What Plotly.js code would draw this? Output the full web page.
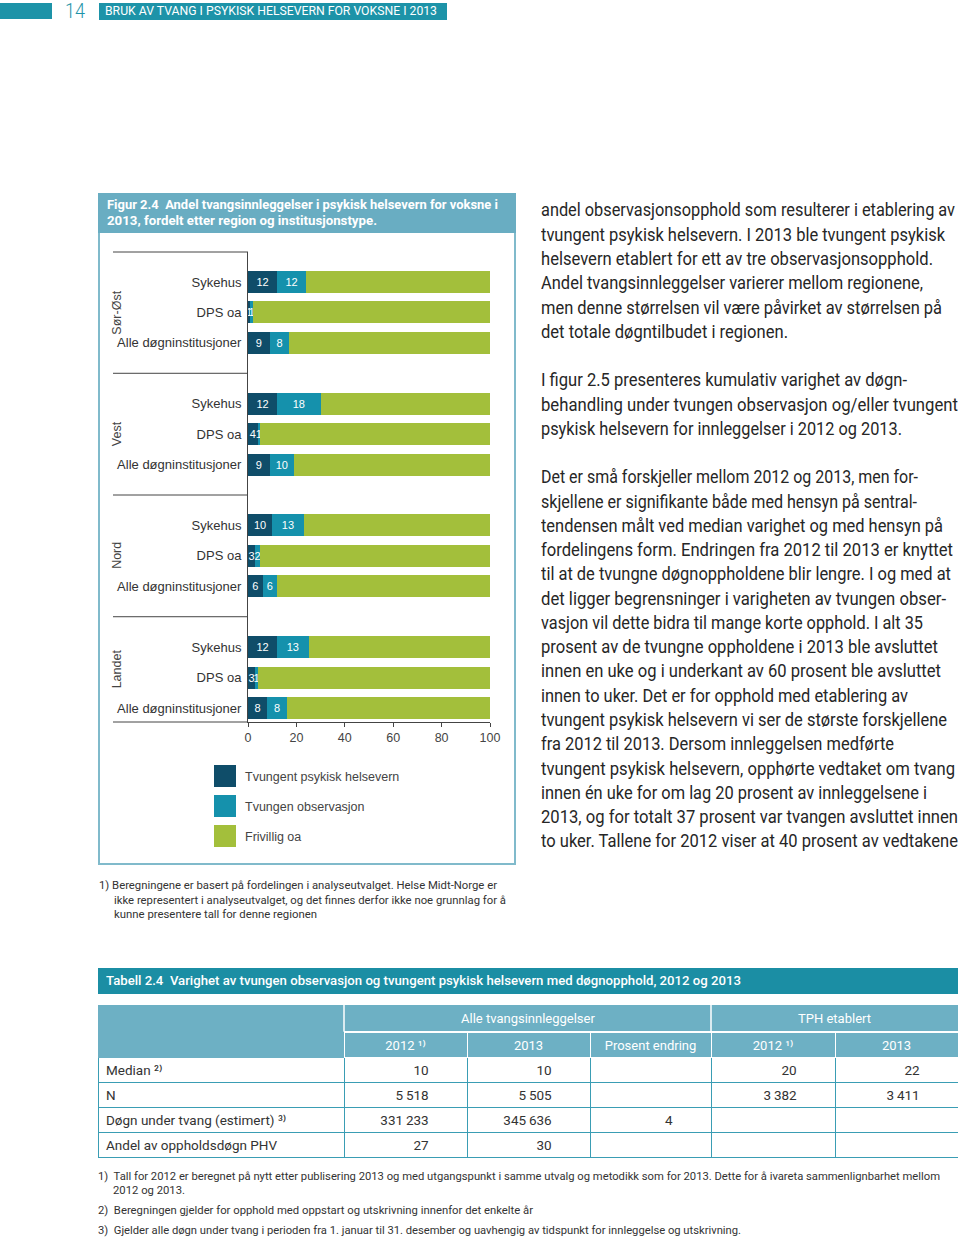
<!DOCTYPE html>
<html><head><meta charset="utf-8">
<script src="https://cdn.plot.ly/plotly-3.0.1.min.js"></script>
<style>
html,body{margin:0;padding:0;background:#fff;}
body{position:relative;width:960px;height:1240px;overflow:hidden;font-family:Roboto,"Open Sans",sans-serif;}
.abs{position:absolute;}
.ln{position:absolute;white-space:pre;transform-origin:0 50%;}
</style></head>
<body>
<div class="abs" style="left:0;top:3px;width:52px;height:16px;background:#1d93a8"></div>
<div class="abs" style="left:99px;top:3px;width:348px;height:17px;background:#1d93a8"></div>
<div class="abs" style="left:98px;top:193px;width:414px;height:668px;border:2px solid #80bacb"></div>
<div class="abs" style="left:98px;top:193px;width:418px;height:40px;background:#69adc2"></div>
<div id="chart" class="abs" style="left:98px;top:233px;width:418px;height:632px"></div>
<div class="abs" style="left:98px;top:968px;width:860px;height:26px;background:#1b8ea4"></div>
<div id="table" class="abs" style="left:98px;top:1005px;width:860px;height:158px"></div>
<script>
// ---------------- DATA ----------------
const regions = ['Sør-Øst', 'Vest', 'Nord', 'Landet'];
const instTypes = ['Sykehus', 'DPS oa', 'Alle døgninstitusjoner'];
const seriesNames = ['Tvungent psykisk helsevern', 'Tvungen observasjon', 'Frivillig oa'];
const tvungentPH = [12, 1, 9, 12, 4, 9, 10, 3, 6, 12, 3, 8];
const tvungenObs = [12, 1, 8, 18, 1, 10, 13, 2, 6, 13, 1, 8];
const frivillig  = [76, 98, 83, 70, 95, 81, 77, 95, 88, 75, 96, 84];
const xTicks = [0, 20, 40, 60, 80, 100];

const tableRowLabels = ['Median \u00b2\u207e', 'N', 'Døgn under tvang (estimert) \u00b3\u207e', 'Andel av oppholdsdøgn PHV'];
const tableColHeaders = ['', '2012 \u00b9\u207e', '2013', 'Prosent endring', '2012 \u00b9\u207e', '2013'];
const tableGroupHeaders = ['Alle tvangsinnleggelser', 'TPH etablert'];
const all2012 = ['10', '5\u2009518', '331\u2009233', '27'];
const all2013 = ['10', '5\u2009505', '345\u2009636', '30'];
const pctChange = ['', '', '4', ''];
const tph2012 = ['20', '3\u2009382', '', ''];
const tph2013 = ['22', '3\u2009411', '', ''];

// ---------------- TEXT ----------------
function addLine(text, x, yc, right, st) {
  const d = document.createElement('div');
  d.className = 'ln';
  d.textContent = text;
  const fs = parseFloat(st.fontSize);
  Object.assign(d.style, st);
  d.style.left = x + 'px';
  d.style.lineHeight = (fs * 1.3) + 'px';
  d.style.top = (yc - fs * 1.3 / 2) + 'px';
  d.dataset.w = right - x;
  document.body.appendChild(d);
}
function fit() {
  document.querySelectorAll('.ln').forEach(d => {
    d.style.transform = 'none';
    const w = d.getBoundingClientRect().width;
    if (w > 0) d.style.transform = 'scaleX(' + (d.dataset.w / w) + ')';
  });
}
addLine('14', 65, 11, 85, {fontSize: '20px', color: '#1d93a8', fontWeight: '300'});
addLine('BRUK AV TVANG I PSYKISK HELSEVERN FOR VOKSNE I 2013', 105, 11.5, 437, {fontSize: '13px', color: '#fff'});
const titleSt = {fontSize: '13px', color: '#fff', fontWeight: '700'};
addLine('Figur 2.4  Andel tvangsinnleggelser i psykisk helsevern for voksne i', 107, 205, 498, titleSt);
addLine('2013, fordelt etter region og institusjonstype.', 107, 221, 377, titleSt);

const bodySt = {fontSize: '18px', color: '#262626', fontWeight: '400'};
const para1 = [
  ['andel observasjonsopphold som resulterer i etablering av', 955],
  ['tvungent psykisk helsevern. I 2013 ble tvungent psykisk', 945],
  ['helsevern etablert for ett av tre observasjonsopphold.', 933],
  ['Andel tvangsinnleggelser varierer mellom regionene,', 923],
  ['men denne størrelsen vil være påvirket av størrelsen på', 942],
  ['det totale døgntilbudet i regionen.', 788]];
const para2 = [
  ['I figur 2.5 presenteres kumulativ varighet av døgn-', 907],
  ['behandling under tvungen observasjon og/eller tvungent', 958],
  ['psykisk helsevern for innleggelser i 2012 og 2013.', 902]];
const para3 = [
  ['Det er små forskjeller mellom 2012 og 2013, men for-', 918],
  ['skjellene er signifikante både med hensyn på sentral-', 917],
  ['tendensen målt ved median varighet og med hensyn på', 943],
  ['fordelingens form. Endringen fra 2012 til 2013 er knyttet', 953],
  ['til at de tvungne døgnoppholdene blir lengre. I og med at', 951],
  ['det ligger begrensninger i varigheten av tvungen obser-', 946],
  ['vasjon vil dette bidra til mange korte opphold. I alt 35', 923],
  ['prosent av de tvungne oppholdene i 2013 ble avsluttet', 938],
  ['innen en uke og i underkant av 60 prosent ble avsluttet', 941],
  ['innen to uker. Det er for opphold med etablering av', 908],
  ['tvungent psykisk helsevern vi ser de største forskjellene', 947],
  ['fra 2012 til 2013. Dersom innleggelsen medførte', 894],
  ['tvungent psykisk helsevern, opphørte vedtaket om tvang', 955],
  ['innen én uke for om lag 20 prosent av innleggelsene i', 927],
  ['2013, og for totalt 37 prosent var tvangen avsluttet innen', 958],
  ['to uker. Tallene for 2012 viser at 40 prosent av vedtakene', 958]];
para1.forEach((l, i) => addLine(l[0], 541, 210 + i * 24.3, l[1], bodySt));
para2.forEach((l, i) => addLine(l[0], 541, 380 + i * 24.3, l[1], bodySt));
para3.forEach((l, i) => addLine(l[0], 541, 477 + i * 24.27, l[1], bodySt));

const fnSt = {fontSize: '11.5px', color: '#333'};
addLine('1) Beregningene er basert på fordelingen i analyseutvalget. Helse Midt-Norge er', 99, 885, 497, fnSt);
addLine('ikke representert i analyseutvalget, og det finnes derfor ikke noe grunnlag for å', 114, 900, 506, fnSt);
addLine('kunne presentere tall for denne regionen', 114, 914, 317, fnSt);

addLine('Tabell 2.4  Varighet av tvungen observasjon og tvungent psykisk helsevern med døgnopphold, 2012 og 2013', 106, 981, 741, {fontSize: '13px', color: '#fff', fontWeight: '500'});

const tfnSt = {fontSize: '11px', color: '#333'};
addLine('1)  Tall for 2012 er beregnet på nytt etter publisering 2013 og med utgangspunkt i samme utvalg og metodikk som for 2013. Dette for å ivareta sammenlignbarhet mellom', 98, 1177, 940, tfnSt);
addLine('2012 og 2013.', 113, 1191, 185, tfnSt);
addLine('2)  Beregningen gjelder for opphold med oppstart og utskrivning innenfor det enkelte år', 98, 1211, 533, tfnSt);
addLine('3)  Gjelder alle døgn under tvang i perioden fra 1. januar til 31. desember og uavhengig av tidspunkt for innleggelse og utskrivning.', 98, 1231, 741, tfnSt);
fit();
if (document.fonts && document.fonts.ready) document.fonts.ready.then(fit);

// ---------------- CHART ----------------
const F = '"Liberation Sans", Arial, Helvetica, sans-serif';
const colors = ['#0f4d69', '#1591ac', '#a3bf3b'];
const pos = [], yLabels = [];
regions.forEach((r, ri) => instTypes.forEach((t, ti) => { pos.push(ri * 4 + ti); yLabels.push(t); }));
const seriesVals = [tvungentPH, tvungenObs, frivillig];
const traces = seriesVals.map((v, s) => {
  const tr = {
    type: 'bar', orientation: 'h', name: seriesNames[s], x: v, y: pos, width: 0.72,
    marker: {color: colors[s], line: {width: 0}}, hoverinfo: 'skip', showlegend: false
  };
  if (s < 2) {
    tr.text = v.map(String);
    tr.textposition = 'inside';
    tr.insidetextanchor = 'middle';
    tr.constraintext = 'none';
    tr.textfont = {color: '#ffffff', size: 11, family: F};
  } else {
    tr.textposition = 'none';
  }
  return tr;
});

const PL = 248, PW = 242, PB = 722, PH = 470;
const px = x => (x - PL) / PW;
const py = y => (PB - y) / PH;
const lineCol = '#444';
const shapes = [];
const annotations = [];
const groupBounds = [-0.986, 3, 7, 11, 14.46];
shapes.push({type: 'line', xref: 'paper', yref: 'paper', x0: px(113), x1: 0, y0: 1, y1: 1, line: {color: lineCol, width: 1}});
shapes.push({type: 'line', xref: 'paper', yref: 'paper', x0: px(113), x1: 0, y0: 0, y1: 0, line: {color: lineCol, width: 1}});
[3, 7, 11].forEach(b => shapes.push({type: 'line', xref: 'paper', yref: 'y', x0: px(113), x1: 0, y0: b, y1: b, line: {color: lineCol, width: 1}}));
regions.forEach((r, ri) => annotations.push({
  text: r, xref: 'paper', yref: 'y', x: px(117), y: (groupBounds[ri] + groupBounds[ri + 1]) / 2,
  textangle: -90, showarrow: false, xanchor: 'center', yanchor: 'middle',
  font: {size: 12.5, color: '#444', family: F}
}));
// legend
seriesNames.forEach((n, s) => {
  const top = 765 + s * 30;
  shapes.push({type: 'rect', xref: 'paper', yref: 'paper', x0: px(214), x1: px(236), y0: py(top), y1: py(top + 22), fillcolor: colors[s], line: {width: 0}});
  annotations.push({text: n, xref: 'paper', yref: 'paper', x: px(243), y: py(top + 11.5), xanchor: 'left', yanchor: 'middle', showarrow: false, font: {size: 12.5, color: '#444', family: F}});
});

Plotly.newPlot('chart', traces, {
  width: 418, height: 632, margin: {l: 150, r: 26, t: 19, b: 143, pad: 0},
  paper_bgcolor: 'rgba(0,0,0,0)', plot_bgcolor: 'rgba(0,0,0,0)', barmode: 'stack', showlegend: false,
  xaxis: {range: [0, 100], tickvals: xTicks, ticks: 'outside', ticklen: 4, tickcolor: lineCol, showline: true, linecolor: lineCol, linewidth: 1,
    showgrid: false, zeroline: false, tickfont: {size: 12.5, color: '#444', family: F}, fixedrange: true},
  yaxis: {range: [14.46, -0.986], tickvals: pos, ticktext: yLabels, showline: true, linecolor: lineCol, linewidth: 1, ticks: '',
    showgrid: false, zeroline: false, tickfont: {size: 13, color: '#333', family: F}, ticklabelstandoff: 3, fixedrange: true},
  shapes: shapes, annotations: annotations
}, {staticPlot: true, displayModeBar: false});

// ---------------- TABLE ----------------
const tF = 'Roboto, "Open Sans", "DejaVu Sans", sans-serif';
const lt = '#6db0c4';
const TH = 158;
const tx = x => (x - 98) / 860;
const ty = y => (1005 + TH - y) / TH;
const pad = '\u2007\u2007\u2007\u2007';
const tableTrace = {
  type: 'table', domain: {x: [0, 1], y: [0, 1 - 27 / TH]},
  columnwidth: [246, 123, 123, 121, 124, 123],
  header: {values: tableColHeaders, align: 'center', height: 25, fill: {color: lt},
    line: {color: [lt, '#fff', '#fff', '#fff', '#fff', '#fff'], width: 1},
    font: {color: '#fff', size: 13, family: tF}},
  cells: {values: [tableRowLabels, all2012, all2013, pctChange, tph2012, tph2013],
    align: ['left', 'right', 'right', 'right', 'right', 'right'], height: 25,
    fill: {color: '#fff'}, line: {color: '#3a9db4', width: 1},
    font: {color: '#333', size: 13.5, family: tF}, suffix: ['', pad, pad, pad, pad, pad]}
};
const tShapes = [
  {type: 'rect', xref: 'paper', yref: 'paper', x0: 0, x1: 1, y0: ty(1031), y1: ty(1005), fillcolor: lt, line: {width: 0}, layer: 'below'},
  {type: 'rect', xref: 'paper', yref: 'paper', x0: 0, x1: tx(343.5), y0: ty(1034), y1: ty(1005), fillcolor: lt, line: {width: 0}, layer: 'below'},
  {type: 'line', xref: 'paper', yref: 'paper', x0: tx(344), x1: tx(344), y0: ty(1031), y1: ty(1005), line: {color: '#fff', width: 1.5}},
  {type: 'line', xref: 'paper', yref: 'paper', x0: tx(711), x1: tx(711), y0: ty(1031), y1: ty(1005), line: {color: '#fff', width: 1.5}}
];
const tAnn = [
  {text: tableGroupHeaders[0], xref: 'paper', yref: 'paper', x: tx(527.5), y: ty(1018), xanchor: 'center', yanchor: 'middle', showarrow: false, font: {color: '#fff', size: 13, family: tF}},
  {text: tableGroupHeaders[1], xref: 'paper', yref: 'paper', x: tx(834.5), y: ty(1018), xanchor: 'center', yanchor: 'middle', showarrow: false, font: {color: '#fff', size: 13, family: tF}}
];
Plotly.newPlot('table', [tableTrace], {
  width: 860, height: TH, margin: {l: 0, r: 0, t: 0, b: 0, pad: 0},
  paper_bgcolor: 'rgba(0,0,0,0)', shapes: tShapes, annotations: tAnn
}, {staticPlot: true, displayModeBar: false});
</script>
</body></html>
